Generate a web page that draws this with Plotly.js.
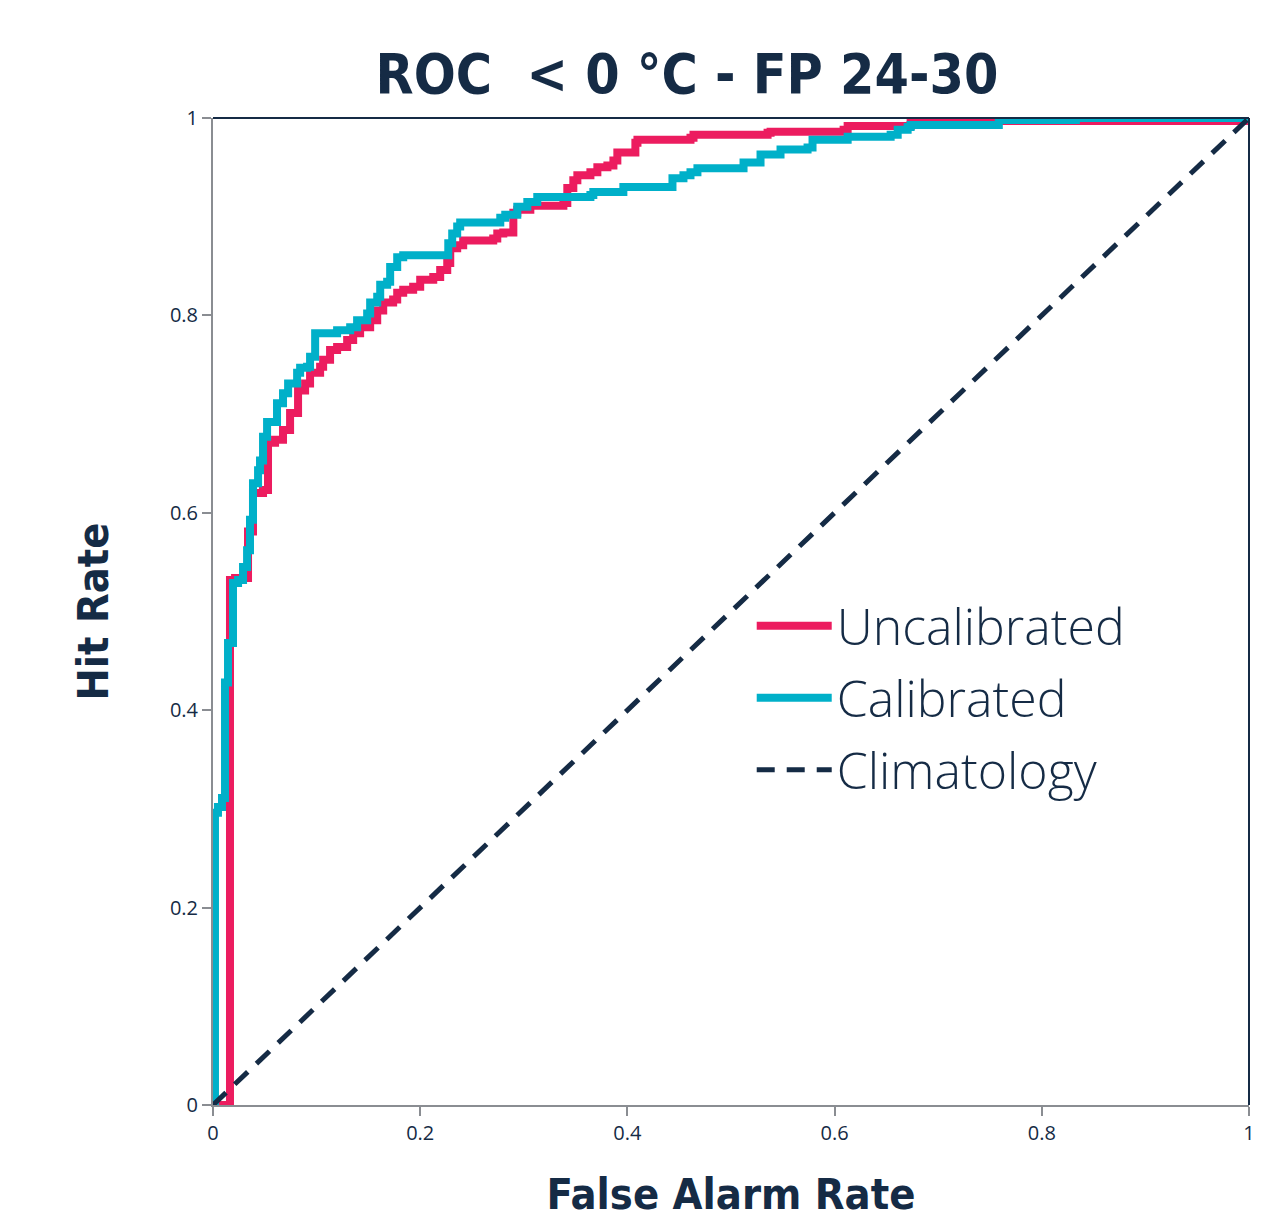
<!DOCTYPE html>
<html>
<head>
<meta charset="utf-8">
<script src="https://cdn.plot.ly/plotly-3.0.1.min.js"></script>
<style>html,body{margin:0;padding:0;background:#fff;}#chart{width:1284px;height:1225px;}</style>
</head>
<body>
<div id="chart"></div>
<script>
// Uncalibrated ROC curve (false alarm rate, hit rate)
const uncalFAR = [0,0.0164,0.0164,0.0213,0.0338,0.0338,0.0386,0.0483,0.0531,0.0599,0.0676,0.0744,0.0812,0.0821,0.0889,0.0937,0.1034,0.1063,0.1130,0.1198,0.1295,0.1353,0.1420,0.1517,0.1585,0.1643,0.1739,0.1778,0.1836,0.1932,0.2000,0.2126,0.2193,0.2261,0.2290,0.2357,0.2415,0.2705,0.2744,0.2802,0.2899,0.2899,0.2937,0.3034,0.3063,0.3382,0.3420,0.3420,0.3478,0.3517,0.3643,0.3710,0.3807,0.3865,0.3903,0.4058,0.4077,0.4097,0.4609,0.4638,0.5353,0.5382,0.6087,0.6126,0.6734,0.6763,0.9990,1];
const uncalHR  = [0,0,0.532,0.534,0.542,0.581,0.620,0.623,0.671,0.674,0.684,0.701,0.701,0.724,0.731,0.742,0.748,0.755,0.765,0.768,0.775,0.782,0.788,0.795,0.805,0.813,0.816,0.823,0.826,0.829,0.836,0.839,0.846,0.853,0.868,0.871,0.876,0.878,0.883,0.884,0.890,0.904,0.907,0.907,0.911,0.914,0.917,0.929,0.937,0.942,0.945,0.950,0.952,0.957,0.965,0.965,0.975,0.978,0.980,0.983,0.985,0.986,0.988,0.992,0.995,0.997,0.997,1];
// Calibrated ROC curve
const calFAR = [0,0.0019,0.0019,0.0048,0.0087,0.0116,0.0116,0.0145,0.0145,0.0193,0.0193,0.0242,0.0290,0.0329,0.0357,0.0386,0.0435,0.0454,0.0483,0.0522,0.0580,0.0618,0.0676,0.0725,0.0812,0.0841,0.0908,0.0937,0.0986,0.0986,0.1159,0.1198,0.1324,0.1391,0.1488,0.1517,0.1585,0.1614,0.1681,0.1710,0.1778,0.1836,0.2261,0.2271,0.2309,0.2357,0.2386,0.2744,0.2773,0.2821,0.2937,0.3034,0.3130,0.3643,0.3671,0.3932,0.3961,0.4415,0.4435,0.4541,0.4609,0.4676,0.5092,0.5121,0.5285,0.5478,0.5739,0.5787,0.6126,0.6184,0.6541,0.6609,0.6705,0.6734,0.7536,0.7585,0.8280,0.8329,1];
const calHR  = [0,0,0.296,0.302,0.311,0.312,0.428,0.428,0.468,0.484,0.529,0.532,0.545,0.562,0.593,0.630,0.643,0.653,0.677,0.692,0.692,0.711,0.721,0.731,0.742,0.747,0.748,0.758,0.765,0.782,0.782,0.785,0.788,0.795,0.802,0.813,0.819,0.831,0.834,0.849,0.859,0.861,0.861,0.873,0.883,0.890,0.894,0.894,0.899,0.902,0.910,0.915,0.920,0.922,0.925,0.925,0.930,0.930,0.939,0.942,0.945,0.949,0.949,0.955,0.963,0.968,0.970,0.978,0.981,0.981,0.983,0.988,0.991,0.993,0.993,0.998,0.998,1,1];
// Climatology (no-skill) line
const climFAR = [0,1];
const climHR  = [0,1];
const tickVals = [0,0.2,0.4,0.6,0.8,1];
const tickText = ['0','0.2','0.4','0.6','0.8','1'];

const navy = '#152B45';
const red = '#EC1C5F';
const cyan = '#00B0C9';
const condensed = '"DejaVu Sans Condensed", "Liberation Sans Narrow", Roboto, sans-serif';

const traces = [
  {x: uncalFAR, y: uncalHR, mode: 'lines', name: 'Uncalibrated', legendgroup: 'a', line: {color: red, width: 8, shape: 'hv'}},
  {x: calFAR, y: calHR, mode: 'lines', name: 'Calibrated', legendgroup: 'b', line: {color: cyan, width: 8, shape: 'hv'}},
  {x: climFAR, y: climHR, mode: 'lines', name: 'Climatology', legendgroup: 'c', line: {color: navy, width: 5, dash: '18px,12px'}}
];

const layout = {
  width: 1284, height: 1225,
  margin: {l: 213, r: 35, t: 118, b: 120},
  paper_bgcolor: '#fff', plot_bgcolor: '#fff',
  title: {text: 'ROC  < 0 °C - FP 24-30', x: 0.535, xanchor: 'center', y: 0.94, yanchor: 'middle',
          font: {family: condensed, size: 55, color: navy, weight: 'bold'}},
  xaxis: {range: [0, 1], tickvals: tickVals, ticktext: tickText, showgrid: false, zeroline: false,
          showline: true, linecolor: '#8a8d92', linewidth: 2, ticks: 'outside', ticklen: 9, tickwidth: 2, tickcolor: '#8a8d92',
          tickfont: {family: 'Open Sans', size: 20, color: navy},
          title: {text: 'False Alarm Rate', standoff: 34, font: {family: condensed, size: 43, color: navy, weight: 'bold'}}},
  yaxis: {range: [0, 1], tickvals: tickVals, ticktext: tickText, showgrid: false, zeroline: false,
          showline: true, linecolor: '#8a8d92', linewidth: 2, ticks: 'outside', ticklen: 9, tickwidth: 2, tickcolor: '#8a8d92',
          tickfont: {family: 'Open Sans', size: 20, color: navy},
          title: {text: 'Hit Rate', standoff: 48, font: {family: condensed, size: 43, color: navy, weight: 'bold'}}},
  showlegend: true,
  legend: {x: 0.52, y: 0.525, xanchor: 'left', yanchor: 'top', bgcolor: 'rgba(0,0,0,0)',
           font: {family: '"Open Sans", sans-serif', size: 50, color: navy, weight: 300}, itemwidth: 75, tracegroupgap: 4},
  shapes: [
    {type: 'line', xref: 'paper', yref: 'paper', x0: 0, x1: 1, y0: 1, y1: 1, line: {color: navy, width: 2}},
    {type: 'line', xref: 'paper', yref: 'paper', x0: 1, x1: 1, y0: 0, y1: 1, line: {color: navy, width: 2}}
  ]
};

Plotly.newPlot('chart', traces, layout, {displayModeBar: false});
</script>
</body>
</html>
